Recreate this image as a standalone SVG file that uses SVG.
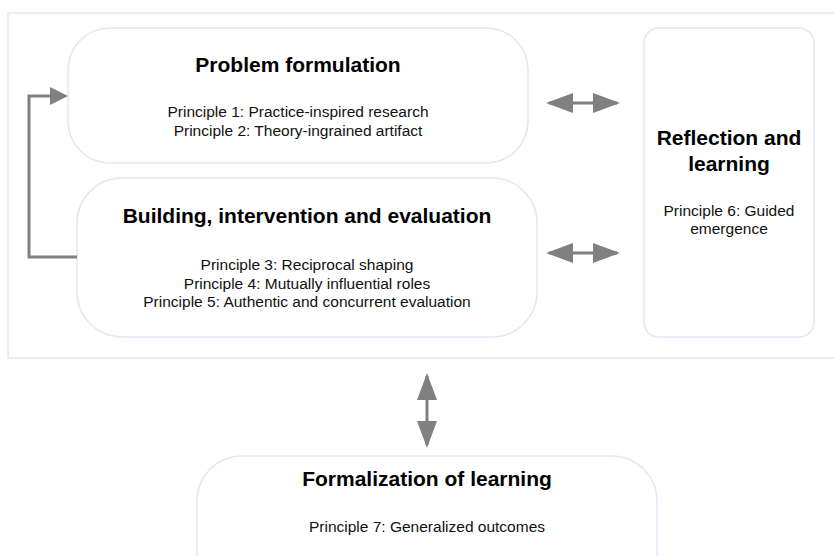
<svg xmlns="http://www.w3.org/2000/svg" width="834" height="556" viewBox="0 0 834 556">
<style>
.box{fill:#ffffff;stroke:#e4e7f3;stroke-width:1.5}
.h{font-family:"Liberation Sans",Arial,sans-serif;font-weight:bold;font-size:21px;fill:#000;text-anchor:middle}
.p{font-family:"Liberation Sans",Arial,sans-serif;font-size:15.5px;fill:#111;text-anchor:middle}
.c{fill:none;stroke:#808080;stroke-width:3}
</style>
<defs>
<marker id="head" viewBox="0 0 27 20" refX="24" refY="10" markerWidth="27" markerHeight="20" markerUnits="userSpaceOnUse" orient="auto-start-reverse">
<path d="M0,0 L27,10 L0,20 z" fill="#808080"/>
</marker>
<marker id="heads" viewBox="0 0 18 18" refX="15" refY="9" markerWidth="18" markerHeight="18" markerUnits="userSpaceOnUse" orient="auto">
<path d="M0,0 L18,9 L0,18 z" fill="#808080"/>
</marker>
</defs>
<rect width="834" height="556" fill="#ffffff"/>
<g id="container">
<rect class="box" x="8" y="13" width="840" height="345"/>
</g>
<g id="problem-formulation">
<rect class="box" x="68" y="28" width="460" height="135" rx="42" ry="42"/>
<text class="h" x="298" y="72">Problem formulation</text>
<text class="p" x="298" y="117">Principle 1: Practice-inspired research</text>
<text class="p" x="298" y="136">Principle 2: Theory-ingrained artifact</text>
</g>
<g id="building">
<rect class="box" x="77" y="178" width="460" height="159" rx="45" ry="45"/>
<text class="h" x="307" y="223">Building, intervention and evaluation</text>
<text class="p" x="307" y="270">Principle 3: Reciprocal shaping</text>
<text class="p" x="307" y="288.5">Principle 4: Mutually influential roles</text>
<text class="p" x="307" y="307">Principle 5: Authentic and concurrent evaluation</text>
</g>
<g id="reflection">
<rect class="box" x="644" y="28" width="170" height="309" rx="15" ry="15"/>
<text class="h" x="729" y="145">Reflection and</text>
<text class="h" x="729" y="171">learning</text>
<text class="p" x="729" y="216">Principle 6: Guided</text>
<text class="p" x="729" y="234">emergence</text>
</g>
<g id="formalization">
<rect class="box" x="197" y="456" width="460" height="150" rx="45" ry="45"/>
<text class="h" x="427" y="486">Formalization of learning</text>
<text class="p" x="427" y="532">Principle 7: Generalized outcomes</text>
</g>
<g id="connectors">
<path class="c" d="M77,257 H29 V96 H65" marker-end="url(#heads)"/>
<line class="c" x1="549" y1="103" x2="617" y2="103" marker-start="url(#head)" marker-end="url(#head)"/>
<line class="c" x1="549" y1="253" x2="617" y2="253" marker-start="url(#head)" marker-end="url(#head)"/>
<line class="c" x1="427" y1="376" x2="427" y2="445" marker-start="url(#head)" marker-end="url(#head)"/>
</g>
</svg>
